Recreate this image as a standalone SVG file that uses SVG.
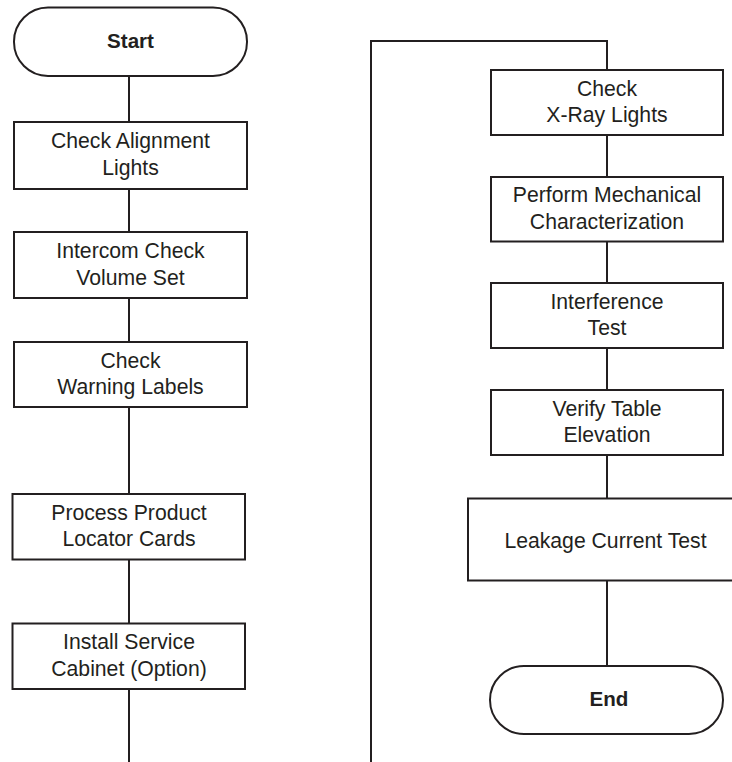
<svg xmlns="http://www.w3.org/2000/svg" width="732" height="762" viewBox="0 0 732 762">
<style>
.n{fill:#fff;stroke:#231f20;stroke-width:2}
.c{fill:none;stroke:#231f20;stroke-width:2}
text{font-family:"Liberation Sans",Arial,sans-serif;font-size:21.2px;fill:#231f20;text-anchor:middle}
.b{font-weight:bold;font-size:20.6px}
</style>
<rect width="732" height="762" fill="#fff"/>
<g id="connectors">
<path class="c" d="M129 76V122M129 189V232M129 298V342M129 407V494M129 559V623M129 689V762"/>
<path class="c" d="M371 762V41H607V70M607 135V177M607 241V283M607 348V390M607 455V498M607 581V666"/>
</g>
<g id="start"><rect class="n" x="14" y="7.5" width="233" height="68.5" rx="34"/><text class="b" x="130.5" y="48">Start</text></g>
<g id="n1"><rect class="n" x="14" y="122" width="233" height="67"/><text x="130.5" y="148">Check Alignment</text><text x="130.5" y="174.5">Lights</text></g>
<g id="n2"><rect class="n" x="14" y="232" width="233" height="66"/><text x="130.5" y="258">Intercom Check</text><text x="130.5" y="284.5">Volume Set</text></g>
<g id="n3"><rect class="n" x="14" y="342" width="233" height="65"/><text x="130.5" y="367.5">Check</text><text x="130.5" y="394">Warning Labels</text></g>
<g id="n4"><rect class="n" x="12.5" y="494" width="232.5" height="65.5"/><text x="129" y="519.5">Process Product</text><text x="129" y="546">Locator Cards</text></g>
<g id="n5"><rect class="n" x="12.5" y="623.5" width="232.5" height="65.5"/><text x="129" y="649">Install Service</text><text x="129" y="675.5">Cabinet (Option)</text></g>
<g id="n6"><rect class="n" x="491" y="70" width="232" height="65"/><text x="607" y="95.5">Check</text><text x="607" y="122">X-Ray Lights</text></g>
<g id="n7"><rect class="n" x="491" y="177" width="232" height="64.5"/><text x="607" y="202">Perform Mechanical</text><text x="607" y="228.5">Characterization</text></g>
<g id="n8"><rect class="n" x="491" y="283" width="232" height="65"/><text x="607" y="308.5">Interference</text><text x="607" y="335">Test</text></g>
<g id="n9"><rect class="n" x="491" y="390" width="232" height="65"/><text x="607" y="415.5">Verify Table</text><text x="607" y="442">Elevation</text></g>
<g id="n10"><rect class="n" x="468" y="498.5" width="278" height="82"/><text x="605.5" y="547.5">Leakage Current Test</text></g>
<g id="end"><rect class="n" x="490" y="666" width="233" height="68" rx="34"/><text class="b" x="609" y="706">End</text></g>
</svg>
